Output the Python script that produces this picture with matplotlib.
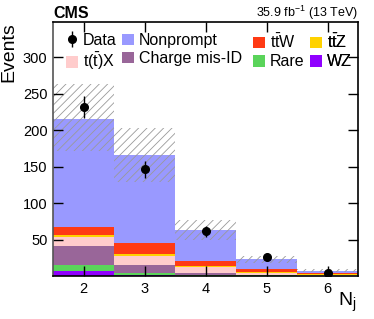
import matplotlib
matplotlib.use("Agg")
import matplotlib.pyplot as plt
from matplotlib.patches import Patch
from matplotlib.lines import Line2D
import numpy as np

plt.rcParams['font.family'] = ['Liberation Sans', 'DejaVu Sans']
plt.rcParams['mathtext.fontset'] = 'custom'
plt.rcParams['mathtext.rm'] = 'Liberation Sans'
plt.rcParams['mathtext.it'] = 'Liberation Sans:italic'
plt.rcParams['mathtext.bf'] = 'Liberation Sans:bold'
plt.rcParams['hatch.linewidth'] = 0.6

# ---- data ----
nj = [2, 3, 4, 5, 6]
wz = [7, 1.5, 0.5, 0.2, 0.1]
rare = [8, 3, 1.5, 0.5, 0.2]
chargemis = [26, 10.5, 2.5, 0.8, 0.3]
ttx = [13, 12.5, 7.5, 3, 0.9]
ttz = [2.5, 2.5, 2, 1.5, 1.2]
ttw = [10, 15, 6, 3, 1.8]
nonprompt = [149, 121, 43.5, 14, 2.8]
unc_up = [48, 37, 13.5, 4.5, 1.7]
unc_down = [44, 37, 14, 5, 1.8]
data = [232, 146, 61, 26, 4.5]
data_err = [15, 12, 8, 5, 2.2]

colors = {
    'WZ': '#9000ff',
    'Rare': '#5ad45a',
    'Charge mis-ID': '#996699',
    't(t)X': '#ffcccc',
    'ttZ': '#ffd200',
    'ttW': '#ff3a14',
    'Nonprompt': '#9999ff',
}

fig = plt.figure(figsize=(3.74, 3.19), dpi=100)
ax = fig.add_axes([53/374, 1-276/319, 305/374, 254/319])

stack = [('WZ', wz), ('Rare', rare), ('Charge mis-ID', chargemis),
         ('t(t)X', ttx), ('ttZ', ttz), ('ttW', ttw), ('Nonprompt', nonprompt)]
x = np.array(nj, dtype=float)
bottom = np.zeros(len(nj))
for name, vals in stack:
    vals = np.array(vals, dtype=float)
    ax.bar(x, vals, width=1.0, bottom=bottom, color=colors[name], linewidth=0)
    bottom = bottom + vals
total = bottom

up = np.array(unc_up); dn = np.array(unc_down)
ax.bar(x, up + dn, width=1.0, bottom=total - dn, fill=False, hatch='////',
       edgecolor='#9a9a9a', linewidth=0)

ax.errorbar(x, data, yerr=data_err, fmt='o', color='black', markersize=5.5,
            elinewidth=1, capsize=0, zorder=5)

ax.set_xlim(1.5, 6.5)
ax.set_ylim(0, 348)
ax.set_xticks(nj)
ax.set_yticks([50, 100, 150, 200, 250, 300])
ax.tick_params(direction='in', length=7, width=1, top=True, right=True,
               labelsize=10.5, pad=4)
for s in ax.spines.values():
    s.set_linewidth(1.2)
ax.spines['left'].set_color('#555555')

ax.set_ylabel('Events', fontsize=14, loc='top', labelpad=4)
fig.text(356/374, 1-302/319, r'N$_\mathregular{j}$', fontsize=14, ha='right', va='center')

fig.text(53/374, 1-13/319, 'CMS', fontsize=11.5, fontweight='bold', va='center', ha='left')
fig.text(358/374, 1-13/319, r'35.9 fb$^{-1}$ (13 TeV)', fontsize=9, va='center', ha='right')

# legend columns
data_handle = (Line2D([], [], marker='|', color='black', markersize=11, markeredgewidth=1,
                      linestyle='none'),
               Line2D([], [], marker='o', color='black', markersize=5.5, linestyle='none'))
def box(name):
    return Patch(facecolor=colors[name], edgecolor='none')

cols = [
    ([data_handle, box('t(t)X')], ['Data', r't($\mathregular{\bar{t}}$)X'], 66),
    ([box('Nonprompt'), box('Charge mis-ID')], ['Nonprompt', 'Charge mis-ID'], 122),
    ([box('ttW'), box('Rare')], [r't$\mathregular{\bar{t}}$W', 'Rare'], 253),
    ([box('ttZ'), box('WZ')], [r't$\mathregular{\bar{t}}$Z', 'WZ'], 310),
]
for handles, labels, px in cols:
    leg = ax.legend(handles, labels, loc='upper left',
                    bbox_to_anchor=((px - 53) / 305, 1 - (33 - 22) / 254),
                    frameon=False, fontsize=11.5, handlelength=0.75, handleheight=0.75,
                    handletextpad=0.3, borderpad=0, borderaxespad=0, labelspacing=0.2)
    ax.add_artist(leg)

fig.savefig('out.png', dpi=100)
